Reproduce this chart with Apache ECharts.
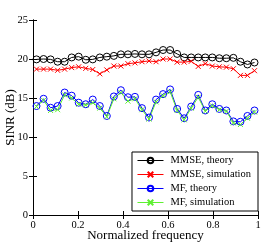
<!DOCTYPE html>
<html><head><meta charset="utf-8">
<script src="https://cdn.jsdelivr.net/npm/echarts@6/dist/echarts.min.js"></script>
<style>html,body{margin:0;padding:0;background:#fff}#c{width:266px;height:252px}</style>
</head><body><div id="c"></div>
<script>
var freqs = [0.0156,0.0469,0.0781,0.1094,0.1406,0.1719,0.2031,0.2344,0.2656,0.2969,0.3281,0.3594,0.3906,0.4219,0.4531,0.4844,0.5156,0.5469,0.5781,0.6094,0.6406,0.6719,0.7031,0.7344,0.7656,0.7969,0.8281,0.8594,0.8906,0.9219,0.9531,0.9844];
var mmseTheory = [19.95,20.0,19.95,19.65,19.65,20.2,20.3,19.9,19.95,20.2,20.3,20.4,20.6,20.6,20.65,20.6,20.6,20.85,21.15,21.15,20.65,20.2,20.2,20.2,20.2,20.2,20.1,20.1,20.15,19.65,19.3,19.55];
var mmseSim = [18.7,18.7,18.7,18.55,18.7,18.9,19.0,18.8,18.65,18.1,18.6,19.1,19.1,19.4,19.5,19.65,19.75,19.65,20.0,20.0,19.6,19.6,19.7,19.05,19.4,19.1,19.0,18.95,18.75,17.9,17.9,18.5];
var mfTheory = [13.97,14.9,13.75,13.97,15.7,15.3,14.4,14.2,14.8,13.97,12.7,15.2,16.0,15.1,15.15,13.7,12.5,14.8,15.5,16.1,13.6,12.4,13.9,15.4,13.4,14.2,13.6,13.4,12.0,11.95,12.7,13.4];
var mfSim = [13.9,14.7,13.4,13.5,15.4,15.0,14.2,14.1,14.4,13.7,12.6,14.9,15.7,14.6,14.9,13.5,12.3,14.5,15.3,15.8,13.4,12.2,13.7,15.1,13.3,14.0,13.5,13.3,11.8,11.6,12.4,13.2];
var xTicks = ['0','0.2','0.4','0.6','0.8','1'];
var yTicks = ['0','5','10','15','20','25'];
var names = ['MMSE, theory','MMSE, simulation','MF, theory','MF, simulation'];

var FONT = 'Liberation Serif';
var X = 'path://M0,0L10,10M10,0L0,10';
function pairs(v){ return v.map(function(y,i){ return [freqs[i], y]; }); }
function ser(name, vals, color, sym, size){
  return {
    name: name, type: 'line', data: pairs(vals),
    symbol: sym, symbolSize: size, showSymbol: true,
    lineStyle: {color: color, width: 1},
    itemStyle: {color: sym === 'circle' ? 'rgba(255,255,255,0)' : color, borderColor: color, borderWidth: 1},
    emphasis: {disabled: true}, animation: false, z: 3
  };
}
var baseAxis = {
  axisLine: {show: true, lineStyle: {color: '#000', width: 1}},
  axisTick: {show: true, inside: true, length: 4, lineStyle: {color: '#000'}},
  splitLine: {show: false}
};
var chart = echarts.init(document.getElementById('c'), null, {renderer: 'canvas'});
chart.setOption({
  animation: false,
  backgroundColor: '#fff',
  grid: {left: 33, right: 8, top: 20, bottom: 37, show: false, containLabel: false, outerBoundsMode: 'none'},
  xAxis: [
    Object.assign({}, baseAxis, {type: 'value', min: 0, max: 1, interval: 0.2, position: 'bottom',
      name: 'Normalized frequency', nameLocation: 'middle', nameGap: 14, nameMoveOverlap: false,
      nameTextStyle: {fontFamily: FONT, fontSize: 13, color: '#000'},
      axisLabel: {fontFamily: FONT, fontSize: 10.5, color: '#000', margin: 5,
        formatter: function(v){ return xTicks[Math.round(v/0.2)]; }}}),
    Object.assign({}, baseAxis, {type: 'value', min: 0, max: 1, interval: 0.2, position: 'top',
      axisLabel: {show: false}})
  ],
  yAxis: [
    Object.assign({}, baseAxis, {type: 'value', min: 0, max: 25, interval: 5, position: 'left',
      name: 'SINR (dB)', nameLocation: 'middle', nameGap: 16, nameMoveOverlap: false,
      nameTextStyle: {fontFamily: FONT, fontSize: 13, color: '#000'},
      axisLabel: {fontFamily: FONT, fontSize: 10.5, color: '#000', margin: 5,
        formatter: function(v){ return yTicks[Math.round(v/5)]; }}}),
    Object.assign({}, baseAxis, {type: 'value', min: 0, max: 25, interval: 5, position: 'right',
      axisLabel: {show: false}})
  ],
  legend: {
    data: names, orient: 'vertical', right: 8, bottom: 41,
    backgroundColor: '#fff', borderColor: '#000', borderWidth: 1,
    padding: [3, 7, 3, 5], itemGap: 3, itemWidth: 26, itemHeight: 7,
    lineStyle: {width: 1},
    textStyle: {fontFamily: FONT, fontSize: 10.5, color: '#000', lineHeight: 11, padding: [0, 0, 0, 2]},
    selectedMode: false
  },
  series: [
    ser(names[0], mmseTheory, '#000000', 'circle', 7),
    ser(names[1], mmseSim, '#ff0000', X, 5),
    ser(names[2], mfTheory, '#0000ff', 'circle', 7),
    ser(names[3], mfSim, '#5ef032', X, 5)
  ]
});
</script>
</body></html>
